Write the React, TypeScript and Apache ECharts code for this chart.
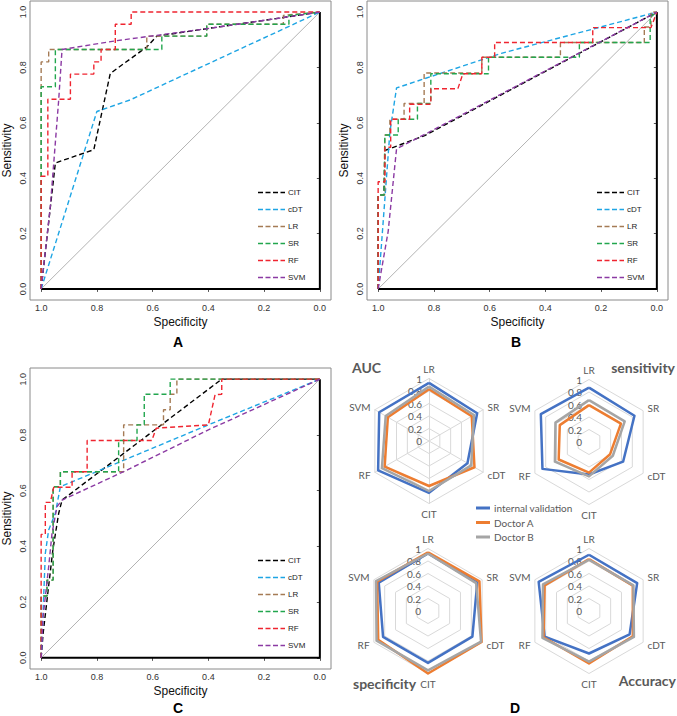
import React, { useEffect, useRef } from 'react';
import * as echarts from 'echarts';

// ---------- ROC data: [specificity, sensitivity] ----------
const MODELS = ['CIT', 'cDT', 'LR', 'SR', 'RF', 'SVM'];
const MODEL_COLORS = ['#000000', '#1ea5e4', '#a57b55', '#22a64e', '#ef2530', '#8b3aa3'];
const ROC_TICKS = [0, 0.2, 0.4, 0.6, 0.8, 1.0];

const A_CIT = [[1, 0], [0.949, 0.455], [0.811, 0.503], [0.752, 0.778], [0.728, 0.796], [0.621, 0.874], [0.585, 0.913], [0.406, 0.94], [0.119, 0.982], [0, 1]];
const A_cDT = [[1, 0], [0.8, 0.641], [0.68, 0.683], [0, 1]];
const A_LR = [[1, 0], [1, 0.82], [0.973, 0.82], [0.973, 0.865], [0.621, 0.865], [0.621, 0.913], [0.406, 0.913], [0.406, 0.956], [0.131, 0.956], [0.131, 0.988], [0, 1]];
const A_SR = [[1, 0], [1, 0.73], [0.949, 0.73], [0.949, 0.865], [0.567, 0.865], [0.567, 0.913], [0.406, 0.913], [0.406, 0.956], [0.111, 0.956], [0.111, 0.988], [0, 1]];
const A_RF = [[1, 0], [1, 0.407], [0.976, 0.407], [0.976, 0.685], [0.895, 0.685], [0.895, 0.776], [0.811, 0.776], [0.811, 0.82], [0.785, 0.82], [0.785, 0.865], [0.734, 0.865], [0.734, 0.956], [0.677, 0.956], [0.677, 1], [0, 1]];
const A_SVM = [[1, 0], [0.967, 0.299], [0.937, 0.683], [0.925, 0.865], [0.734, 0.896], [0.585, 0.916], [0.406, 0.94], [0.119, 0.982], [0, 1]];

const B_CIT = [[1, 0], [1, 0.339], [0.979, 0.339], [0.976, 0.5], [0.833, 0.554], [0, 1]];
const B_cDT = [[1, 0], [0.958, 0.565], [0.934, 0.726], [0.558, 0.851], [0, 1]];
const B_LR = [[1, 0], [1, 0.339], [0.976, 0.339], [0.976, 0.556], [0.958, 0.556], [0.958, 0.613], [0.907, 0.613], [0.907, 0.67], [0.835, 0.67], [0.835, 0.78], [0.628, 0.78], [0.628, 0.837], [0.346, 0.837], [0.346, 0.89], [0.045, 0.89], [0.045, 0.946], [0.021, 0.946], [0.021, 1], [0, 1]];
const B_SR = [[1, 0], [1, 0.339], [0.979, 0.339], [0.976, 0.556], [0.928, 0.556], [0.928, 0.613], [0.859, 0.613], [0.859, 0.67], [0.811, 0.67], [0.811, 0.777], [0.604, 0.777], [0.604, 0.837], [0.278, 0.837], [0.278, 0.89], [0.024, 0.89], [0.024, 0.982], [0, 1]];
const B_RF = [[1, 0], [1, 0.387], [0.976, 0.387], [0.976, 0.512], [0.955, 0.512], [0.955, 0.613], [0.887, 0.613], [0.887, 0.667], [0.811, 0.667], [0.811, 0.723], [0.714, 0.723], [0.696, 0.777], [0.628, 0.777], [0.628, 0.837], [0.582, 0.837], [0.582, 0.89], [0.23, 0.89], [0.23, 0.944], [0.021, 0.944], [0.012, 0.968], [0, 1]];
const B_SVM = [[1, 0], [0.964, 0.208], [0.934, 0.506], [0.82, 0.565], [0, 1]];

const C_CIT = [[1, 0], [0.993, 0.087], [0.979, 0.207], [0.958, 0.387], [0.937, 0.519], [0.925, 0.566], [0.352, 1], [0, 1]];
const C_cDT = [[1, 0], [0.996, 0.087], [0.985, 0.375], [0.973, 0.459], [0.949, 0.519], [0.931, 0.614], [0.4, 0.836], [0, 1]];
const C_LR = [[1, 0], [1, 0.222], [0.979, 0.222], [0.979, 0.279], [0.957, 0.279], [0.957, 0.614], [0.931, 0.614], [0.931, 0.668], [0.704, 0.668], [0.704, 0.836], [0.561, 0.836], [0.561, 0.89], [0.537, 0.89], [0.537, 0.946], [0.513, 0.946], [0.513, 1], [0, 1]];
const C_SR = [[1, 0], [1, 0.222], [0.979, 0.222], [0.979, 0.279], [0.957, 0.279], [0.957, 0.614], [0.931, 0.614], [0.931, 0.668], [0.722, 0.668], [0.722, 0.78], [0.656, 0.78], [0.656, 0.836], [0.63, 0.836], [0.63, 0.946], [0.537, 0.946], [0.537, 1], [0, 1]];
const C_RF = [[1, 0], [1, 0.443], [0.985, 0.443], [0.985, 0.558], [0.967, 0.558], [0.955, 0.612], [0.889, 0.612], [0.889, 0.668], [0.835, 0.668], [0.835, 0.78], [0.603, 0.78], [0.587, 0.824], [0.4, 0.836], [0.376, 0.944], [0.352, 0.946], [0.352, 1], [0, 1]];
const C_SVM = [[1, 0], [0.993, 0.147], [0.973, 0.327], [0.961, 0.447], [0.943, 0.543], [0.925, 0.566], [0.704, 0.668], [0.4, 0.818], [0, 1]];

// ---------- Radar data, natural order: LR, SR, cDT, CIT, RF, SVM ----------
const RADAR_AXES = ['LR', 'SR', 'cDT', 'CIT', 'RF', 'SVM'];
const RADAR_GROUPS = ['internal validation', 'Doctor A', 'Doctor B'];
const RADAR_COLORS = ['#4472c4', '#ed7d31', '#a5a5a5'];
const RADAR_TITLES = ['AUC', 'sensitivity', 'specificity', 'Accuracy'];

const AUC_INTERNAL = [0.93, 0.89, 0.71, 0.83, 0.94, 0.92];
const AUC_DOCTOR_A = [0.83, 0.79, 0.84, 0.72, 0.82, 0.76];
const AUC_DOCTOR_B = [0.87, 0.83, 0.78, 0.8, 0.87, 0.8];

const SENS_INTERNAL = [0.87, 0.84, 0.63, 0.52, 0.86, 0.89];
const SENS_DOCTOR_A = [0.59, 0.59, 0.39, 0.49, 0.56, 0.54];
const SENS_DOCTOR_B = [0.67, 0.66, 0.44, 0.55, 0.63, 0.62];

const SPEC_INTERNAL = [0.92, 0.91, 0.82, 0.83, 0.83, 0.91];
const SPEC_DOCTOR_A = [0.94, 0.95, 0.99, 1.0, 0.92, 0.94];
const SPEC_DOCTOR_B = [0.92, 0.89, 0.98, 0.95, 0.95, 0.96];

const ACC_INTERNAL = [0.9, 0.89, 0.75, 0.68, 0.82, 0.93];
const ACC_DOCTOR_A = [0.83, 0.81, 0.81, 0.84, 0.84, 0.82];
const ACC_DOCTOR_B = [0.82, 0.82, 0.83, 0.81, 0.86, 0.85];

const SANS = '"Liberation Sans", Arial, sans-serif';
const XL = 'Lato, "Open Sans", sans-serif';

export default function App() {
  const ref = useRef<HTMLDivElement>(null);

  useEffect(() => {
    document.body.style.margin = '0';
    if (!ref.current) return;
    const chart = echarts.init(ref.current, null, { renderer: 'svg' });

    const rocPanels = [
      { curves: [A_CIT, A_cDT, A_LR, A_SR, A_RF, A_SVM], grid: { left: 30, top: 1, width: 301, height: 299 }, letter: 'A', lp: [178, 342], lo: [0, 0] },
      { curves: [B_CIT, B_cDT, B_LR, B_SR, B_RF, B_SVM], grid: { left: 367, top: 1, width: 301, height: 299 }, letter: 'B', lp: [516, 342], lo: [339, 0] },
      { curves: [C_CIT, C_cDT, C_LR, C_SR, C_RF, C_SVM], grid: { left: 30, top: 368, width: 301, height: 301 }, letter: 'C', lp: [178, 708], lo: [0, 368] },
    ];

    const grids: any[] = [];
    const xAxes: any[] = [];
    const yAxes: any[] = [];
    const series: any[] = [];
    const graphics: any[] = [];

    rocPanels.forEach((p, gi) => {
      grids.push({ ...p.grid, show: true, borderColor: '#8a8a8a', borderWidth: 1, backgroundColor: 'transparent' });
      const axisCommon = {
        type: 'value', gridIndex: gi, min: -0.04, max: 1.04,
        splitLine: { show: false }, axisLine: { show: false },
        axisTick: { show: true, length: 3, customValues: ROC_TICKS, lineStyle: { color: '#555' } },
        axisLabel: { customValues: ROC_TICKS, formatter: (v: number) => v.toFixed(1), fontSize: 9, color: '#333', fontFamily: SANS, margin: 3 },
        nameLocation: 'middle', nameTextStyle: { fontSize: 12, color: '#111', fontFamily: SANS },
      };
      xAxes.push({ ...axisCommon, inverse: true, position: 'bottom', name: 'Specificity', nameGap: 16 });
      yAxes.push({ ...axisCommon, position: 'left', name: 'Sensitivity', nameGap: 17, axisLabel: { ...axisCommon.axisLabel, rotate: 90 } });

      series.push({
        type: 'line', xAxisIndex: gi, yAxisIndex: gi, data: [[1, 0], [0, 0], [0, 1]], symbol: 'none', silent: true,
        lineStyle: { color: '#000', width: 2 }, z: 1,
      });
      series.push({
        type: 'line', xAxisIndex: gi, yAxisIndex: gi, data: [[1, 0], [0, 1]], symbol: 'none', silent: true,
        lineStyle: { color: '#a0a0a0', width: 0.8 }, z: 1,
      });
      p.curves.forEach((c, ci) => {
        series.push({
          type: 'line', name: MODELS[ci], xAxisIndex: gi, yAxisIndex: gi, data: c, symbol: 'none',
          lineStyle: { color: MODEL_COLORS[ci], width: 1.4, type: [5, 3] }, z: 2 + ci,
        });
      });

      // legend
      MODELS.forEach((m, i) => {
        const y = p.lo[1] + 192.5 + i * 17;
        graphics.push({ type: 'line', shape: { x1: p.lo[0] + 258, y1: y, x2: p.lo[0] + 285, y2: y }, style: { stroke: MODEL_COLORS[i], lineWidth: 1.4, lineDash: [5, 2.5] } });
        graphics.push({ type: 'text', x: p.lo[0] + 288, y, style: { text: m, fontSize: 8, fontFamily: SANS, fill: '#222', textAlign: 'left', textVerticalAlign: 'middle' } });
      });
      graphics.push({ type: 'text', x: p.lp[0], y: p.lp[1], style: { text: p.letter, fontSize: 14, fontWeight: 'bold', fontFamily: SANS, fill: '#000', textAlign: 'center', textVerticalAlign: 'middle' } });
    });

    // radar: indicator order counter-clockwise from top so axes read clockwise
    const order = [0, 5, 4, 3, 2, 1];
    const radarPanels = [
      { center: [429, 441], sets: [AUC_INTERNAL, AUC_DOCTOR_A, AUC_DOCTOR_B], spokes: true },
      { center: [589, 442], sets: [SENS_INTERNAL, SENS_DOCTOR_A, SENS_DOCTOR_B], spokes: false },
      { center: [428, 611], sets: [SPEC_INTERNAL, SPEC_DOCTOR_A, SPEC_DOCTOR_B], spokes: false },
      { center: [589, 611], sets: [ACC_INTERNAL, ACC_DOCTOR_A, ACC_DOCTOR_B], spokes: false },
    ];
    const radars: any[] = radarPanels.map((r) => ({
      center: r.center, radius: 62.5, startAngle: 90, shape: 'polygon', splitNumber: 5,
      indicator: order.map((k, j) => ({
        name: RADAR_AXES[k], min: 0, max: 1,
        ...(j === 0 ? { axisLabel: { show: true, color: '#595959', fontSize: 10, fontFamily: XL, margin: 7, showMinLabel: true, showMaxLabel: true } } : {}),
      })),
      axisName: { color: '#595959', fontSize: 10, fontFamily: XL },
      nameGap: 5,
      splitLine: { lineStyle: { color: '#d9d9d9', width: 1 } },
      splitArea: { show: false },
      axisLine: { show: r.spokes, lineStyle: { color: '#d9d9d9', width: 1 } },
      axisTick: { show: false },
      axisLabel: { show: false },
    }));
    radarPanels.forEach((r, ri) => {
      series.push({
        type: 'radar', radarIndex: ri, symbol: 'none', silent: true,
        data: r.sets.map((vals, gi) => ({
          name: RADAR_GROUPS[gi], value: order.map((k) => vals[k]),
          lineStyle: { color: RADAR_COLORS[gi], width: 2.5 }, itemStyle: { color: RADAR_COLORS[gi] },
        })),
      });
    });

    // radar legend
    RADAR_GROUPS.forEach((g, i) => {
      const y = [508, 522.5, 537][i];
      graphics.push({ type: 'line', shape: { x1: 476, y1: y, x2: 490, y2: y }, style: { stroke: RADAR_COLORS[i], lineWidth: 3 } });
      graphics.push({ type: 'text', x: 494, y, style: { text: g, fontSize: 10, fontFamily: XL, fill: '#595959', textAlign: 'left', textVerticalAlign: 'middle' } });
    });
    // radar titles
    const titlePos = [[352, 367, 'left'], [675, 367, 'right'], [353, 683, 'left'], [676, 680, 'right']];
    RADAR_TITLES.forEach((t, i) => {
      graphics.push({ type: 'text', x: titlePos[i][0], y: titlePos[i][1], style: { text: t, fontSize: 14, fontWeight: 'bold', fontFamily: XL, fill: '#595959', textAlign: titlePos[i][2], textVerticalAlign: 'middle' } });
    });
    graphics.push({ type: 'text', x: 515, y: 708, style: { text: 'D', fontSize: 14, fontWeight: 'bold', fontFamily: SANS, fill: '#000', textAlign: 'center', textVerticalAlign: 'middle' } });

    chart.setOption({
      animation: false,
      backgroundColor: '#ffffff',
      grid: grids,
      xAxis: xAxes,
      yAxis: yAxes,
      radar: radars,
      series,
      graphic: graphics,
    });
    return () => chart.dispose();
  }, []);

  return <div ref={ref} style={{ width: 677, height: 716 }} />;
}
